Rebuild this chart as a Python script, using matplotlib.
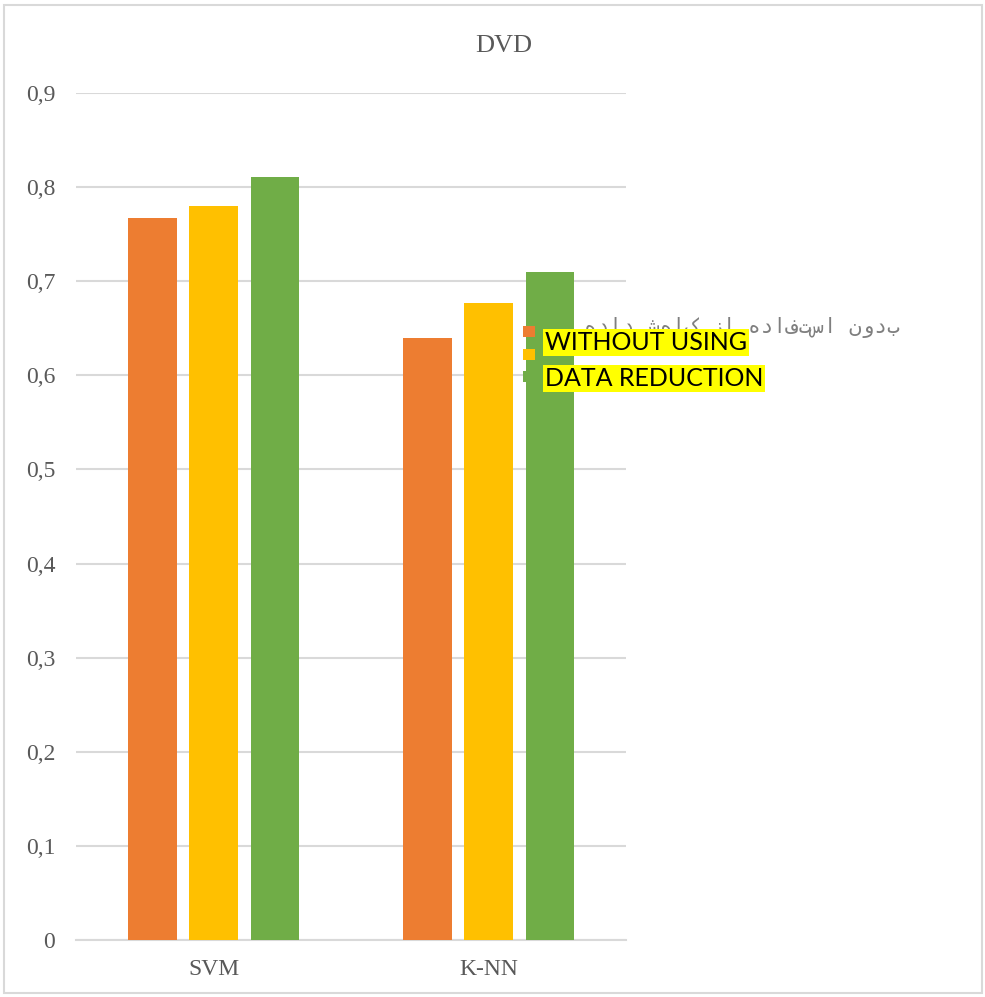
import matplotlib.pyplot as plt
from matplotlib.patches import Rectangle
import numpy as np

categories = ['SVM', 'K-NN']
series_names = ['بدون استفاده از کاهش داده', 'series 2', 'series 3']
values_1 = [0.767, 0.640]
values_2 = [0.780, 0.677]
values_3 = [0.811, 0.710]
yticks = [0, 0.1, 0.2, 0.3, 0.4, 0.5, 0.6, 0.7, 0.8, 0.9]
ytick_labels = ['0', '0,1', '0,2', '0,3', '0,4', '0,5', '0,6', '0,7', '0,8', '0,9']

colors = ['#ed7d31', '#ffc000', '#70ad47']
grey = '#595959'

fig = plt.figure(figsize=(9.85, 9.97), dpi=100)
ax = fig.add_axes([0.0772, 0.0572, 0.5584, 0.8495])

x = np.arange(len(categories))
w = 0.175
step = 0.222
bars = []
for i, (vals, c) in enumerate(zip([values_1, values_2, values_3], colors)):
    bars.append(ax.bar(x + (i - 1) * step, vals, w, color=c, zorder=3))

ax.set_xlim(-0.5, 1.5)
ax.set_ylim(0, 0.9)
ax.set_yticks(yticks)
ax.set_yticklabels(ytick_labels)
ax.set_xticks(x)
ax.set_xticklabels(categories)
ax.tick_params(length=0, labelsize=17, labelcolor=grey)
ax.tick_params(axis='y', pad=15)
ax.tick_params(axis='x', pad=14)
for lab in ax.get_xticklabels() + ax.get_yticklabels():
    lab.set_family('Liberation Serif')
ax.yaxis.grid(True, color='#d9d9d9', lw=1.5, zorder=0)
for s in ['top', 'right', 'left']:
    ax.spines[s].set_visible(False)
ax.spines['bottom'].set_color('#d9d9d9')
ax.spines['bottom'].set_linewidth(1.5)

fig.text(0.5117, 1 - 46 / 997, 'DVD', ha='center', va='center',
         family='Liberation Serif', fontsize=19, color=grey)

# legend markers only, labels sit behind the highlighted note
leg = fig.legend([b[0] for b in bars], [' ', ' ', ' '],
                 loc='upper left', bbox_to_anchor=(511 / 985, 1 - 313 / 997),
                 frameon=False, handlelength=0.85, handleheight=0.85,
                 handletextpad=0.3, labelspacing=0.62, fontsize=10)

fig.text(900 / 985, 1 - 328 / 997, series_names[0][::-1], ha='right', va='center',
         family=['DejaVu Sans Mono', 'DejaVu Sans'], fontsize=15, color='#7f7f7f')

fig.text(545 / 985, 1 - 342 / 997, 'WITHOUT USING', ha='left', va='center',
         family='Lato', fontsize=18, color='black',
         bbox=dict(facecolor='yellow', edgecolor='none', pad=1.5))
fig.text(545 / 985, 1 - 378 / 997, 'DATA REDUCTION', ha='left', va='center',
         family='Lato', fontsize=18, color='black',
         bbox=dict(facecolor='yellow', edgecolor='none', pad=1.5))

fig.patches.append(Rectangle((4 / 985, 4 / 997), 978 / 985, 988 / 997,
                             transform=fig.transFigure, fill=False,
                             edgecolor='#d9d9d9', lw=1.5))

fig.savefig('out.png', dpi=100)
